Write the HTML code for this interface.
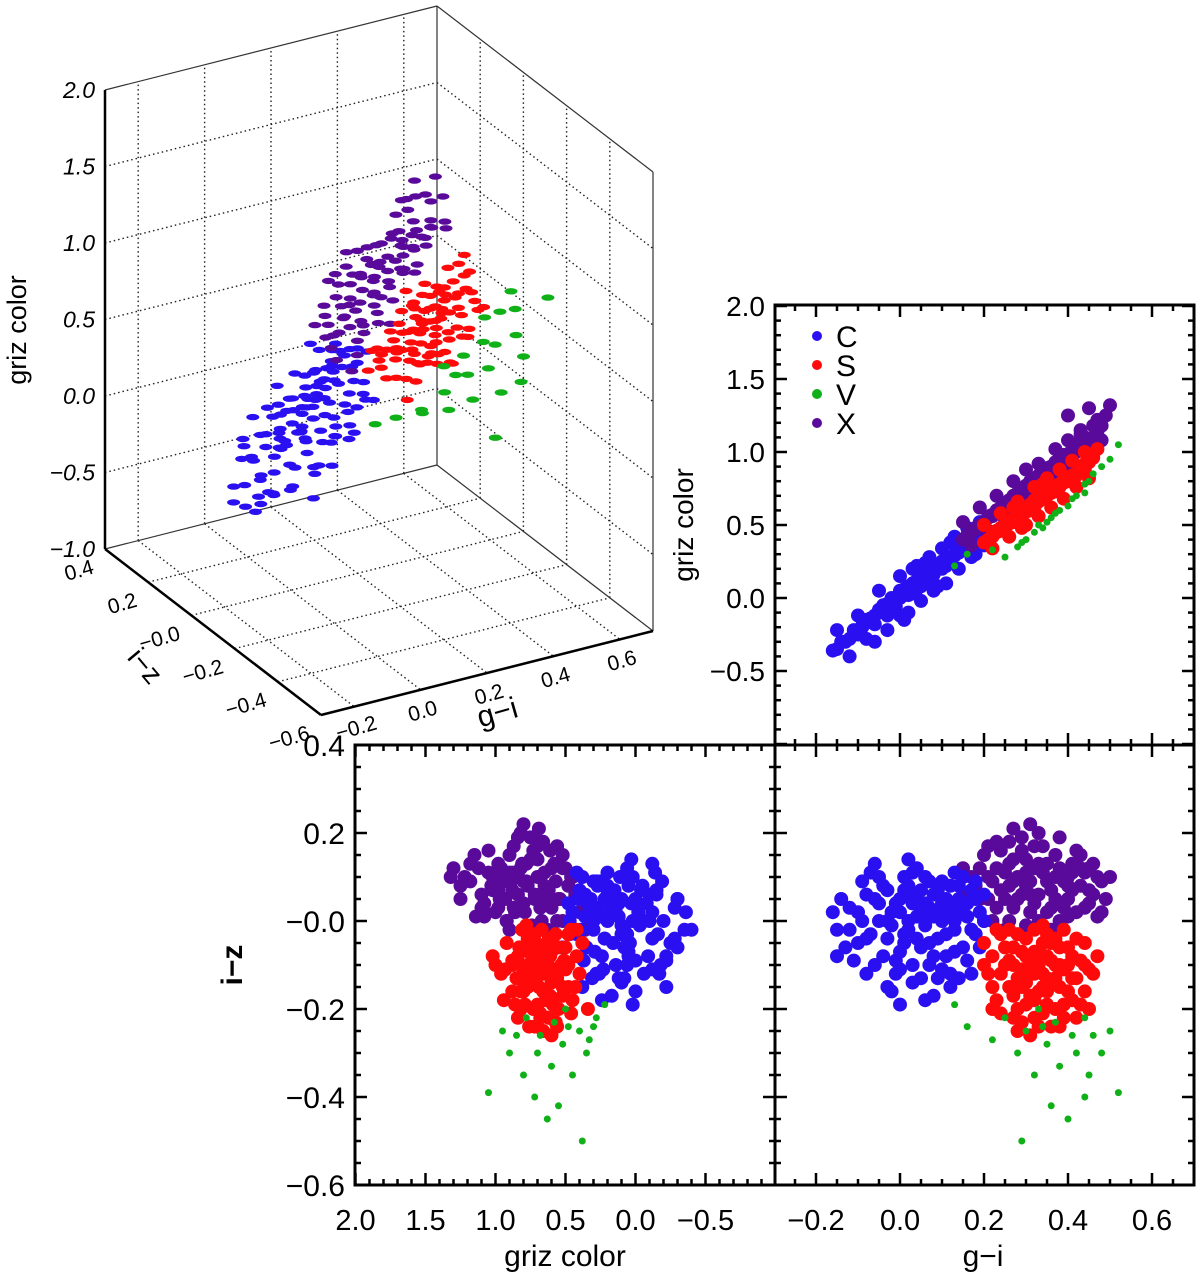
<!DOCTYPE html>
<html><head><meta charset="utf-8">
<style>
html,body{margin:0;padding:0;background:#fff;}
svg{display:block;font-family:"Liberation Sans",sans-serif;}
</style></head>
<body>
<svg id="fig" width="1200" height="1282" viewBox="0 0 1200 1282" xmlns="http://www.w3.org/2000/svg"></svg>
<script>
// ---- data: [g-i, i-z, griz] per asteroid class ----
const classNames = ['C','S','V','X'];
const classColors = ['#2a10f0','#ff0a0a','#10b018','#5a0a9a'];
const dataC = [
[-0.15,-0.02,-0.35],[-0.12,0.03,-0.28],[-0.10,-0.05,-0.25],[-0.08,0.06,-0.15],[-0.06,-0.10,-0.18],[-0.05,0.00,-0.10],[-0.04,0.08,-0.05],[-0.03,-0.04,-0.12],[-0.02,0.02,-0.02],[-0.01,-0.12,-0.06],
[0.00,0.05,0.00],[0.00,-0.07,0.05],[0.01,0.10,0.02],[0.02,-0.02,0.08],[0.03,0.04,0.03],[0.03,-0.14,0.10],[0.04,0.01,0.12],[0.05,-0.06,0.08],[0.05,0.07,0.15],[0.06,-0.01,0.10],
[0.07,0.03,0.18],[0.07,-0.10,0.14],[0.08,0.06,0.16],[0.09,-0.04,0.22],[0.10,0.00,0.20],[0.10,0.09,0.25],[0.11,-0.08,0.24],[0.12,0.03,0.28],[0.13,-0.02,0.30],[0.14,0.05,0.32],
[0.15,-0.06,0.35],[0.16,0.01,0.36],[0.17,0.07,0.40],[0.18,-0.03,0.42],[0.19,0.02,0.45],[-0.02,-0.16,0.00],[0.04,0.12,0.06],[0.12,-0.12,0.26],[-0.07,0.11,-0.14],[0.08,-0.17,0.17],
[0.15,0.10,0.38],[-0.11,-0.09,-0.22],[0.02,0.00,0.02],[0.06,0.04,0.12],[0.11,0.05,0.22],[-0.03,0.00,-0.06],[0.09,0.02,0.21],[0.13,0.00,0.30],[0.01,-0.03,0.06],[-0.05,0.04,-0.08],
[-0.14,0.05,-0.30],[-0.13,-0.06,-0.30],[-0.09,0.00,-0.20],[-0.09,0.09,-0.19],[-0.07,-0.03,-0.16],[-0.06,0.13,-0.12],[-0.04,-0.08,-0.09],[-0.03,0.07,-0.04],[-0.01,0.04,-0.01],[-0.01,-0.09,0.00],
[0.01,-0.05,0.04],[0.02,0.08,0.05],[0.03,-0.10,0.06],[0.04,0.05,0.10],[0.05,-0.13,0.12],[0.06,0.10,0.11],[0.07,-0.05,0.16],[0.08,0.01,0.19],[0.09,0.07,0.20],[0.10,-0.11,0.23],
[0.11,0.01,0.25],[0.12,0.08,0.27],[0.13,-0.07,0.29],[0.14,0.02,0.33],[0.15,0.04,0.34],[0.16,-0.09,0.37],[0.17,-0.02,0.39],[0.18,0.05,0.41],[0.02,0.14,0.03],[-0.08,-0.12,-0.17],
[0.00,-0.19,0.02],[0.20,0.00,0.47],[-0.16,0.02,-0.36],[0.14,-0.13,0.31],[0.06,0.02,0.14],[-0.02,-0.01,-0.03],
[-0.10,0.02,-0.12],[-0.08,-0.04,-0.28],[-0.05,0.10,0.05],[-0.03,-0.15,-0.22],[0.00,0.02,0.15],[0.00,-0.11,-0.12],[0.02,0.06,-0.10],[0.04,-0.04,0.22],[0.05,0.03,-0.02],[0.07,0.09,0.28],
[0.08,-0.08,0.05],[0.10,0.04,0.34],[0.11,-0.03,0.10],[0.12,-0.15,0.38],[0.14,0.08,0.20],[0.16,0.04,0.48],[0.17,-0.12,0.28],[0.19,-0.06,0.52],[0.20,0.06,0.36],[-0.12,-0.02,-0.40],
[-0.06,0.05,-0.30],[0.03,0.11,0.20],[0.09,-0.13,0.08],[0.13,0.11,0.42],[-0.15,-0.08,-0.22],[0.06,-0.18,0.24],[0.01,0.07,-0.15],[0.18,0.09,0.30]
];
const dataS = [
[0.20,-0.05,0.38],[0.21,-0.12,0.40],[0.22,-0.08,0.42],[0.23,-0.18,0.45],[0.24,-0.03,0.48],[0.25,-0.10,0.48],[0.26,-0.15,0.52],[0.27,-0.06,0.55],[0.28,-0.20,0.55],[0.29,-0.11,0.58],
[0.30,-0.04,0.62],[0.30,-0.14,0.60],[0.31,-0.09,0.63],[0.32,-0.22,0.62],[0.33,-0.07,0.68],[0.33,-0.16,0.66],[0.34,-0.12,0.70],[0.35,-0.03,0.72],[0.35,-0.19,0.70],[0.36,-0.09,0.74],
[0.37,-0.13,0.75],[0.38,-0.06,0.78],[0.38,-0.24,0.76],[0.39,-0.11,0.80],[0.40,-0.16,0.80],[0.41,-0.08,0.84],[0.42,-0.13,0.85],[0.43,-0.19,0.86],[0.44,-0.05,0.92],[0.45,-0.11,0.93],
[0.27,-0.10,0.53],[0.31,-0.17,0.61],[0.36,-0.14,0.73],[0.40,-0.10,0.82],[0.34,-0.05,0.71],[0.29,-0.07,0.60],[0.37,-0.20,0.73],[0.25,-0.06,0.50],[0.42,-0.22,0.84],[0.32,-0.12,0.66],
[0.22,-0.15,0.43],[0.23,-0.02,0.46],[0.24,-0.21,0.46],[0.26,-0.09,0.51],[0.27,-0.17,0.52],[0.28,-0.03,0.57],[0.28,-0.13,0.56],[0.29,-0.23,0.57],[0.30,-0.08,0.61],[0.31,-0.12,0.64],
[0.32,-0.02,0.67],[0.32,-0.18,0.64],[0.33,-0.10,0.67],[0.34,-0.21,0.68],[0.35,-0.08,0.72],[0.35,-0.13,0.71],[0.36,-0.24,0.72],[0.37,-0.04,0.77],[0.38,-0.15,0.77],[0.39,-0.19,0.79],
[0.40,-0.06,0.83],[0.41,-0.13,0.83],[0.43,-0.09,0.88],[0.44,-0.16,0.88],[0.46,-0.12,0.96],[0.39,-0.02,0.81],[0.31,-0.26,0.60],[0.34,-0.15,0.69],[0.37,-0.10,0.76],[0.30,-0.19,0.59],
[0.20,-0.10,0.50],[0.22,-0.20,0.34],[0.24,-0.12,0.58],[0.26,-0.02,0.42],[0.28,-0.25,0.66],[0.30,-0.11,0.50],[0.32,-0.07,0.76],[0.33,-0.24,0.56],[0.35,-0.16,0.82],[0.36,-0.05,0.62],
[0.38,-0.10,0.88],[0.39,-0.22,0.68],[0.41,-0.18,0.94],[0.42,-0.04,0.76],[0.44,-0.10,1.00],[0.45,-0.20,0.82],[0.47,-0.08,1.02],[0.29,-0.15,0.48],[0.34,-0.01,0.78],[0.27,-0.22,0.62]
];
const dataV = [
[0.25,-0.22,0.28],[0.28,-0.30,0.35],[0.30,-0.25,0.40],[0.32,-0.35,0.45],[0.33,-0.20,0.50],[0.35,-0.28,0.52],[0.36,-0.42,0.55],[0.37,-0.23,0.58],[0.38,-0.33,0.60],[0.40,-0.45,0.63],
[0.41,-0.26,0.68],[0.42,-0.30,0.70],[0.44,-0.22,0.78],[0.45,-0.35,0.80],[0.46,-0.26,0.85],[0.48,-0.30,0.90],[0.50,-0.25,0.95],[0.52,-0.39,1.05],[0.29,-0.50,0.38],[0.34,-0.24,0.48],
[0.13,-0.19,0.22],[0.16,-0.24,0.30],[0.22,-0.27,0.33],[0.44,-0.40,0.72]
];
const dataX = [
[0.15,0.02,0.40],[0.17,0.10,0.45],[0.18,-0.03,0.47],[0.20,0.15,0.52],[0.21,0.05,0.55],[0.22,0.00,0.56],[0.23,0.12,0.60],[0.24,0.07,0.62],[0.25,-0.02,0.63],[0.26,0.18,0.66],
[0.27,0.03,0.68],[0.28,0.10,0.70],[0.29,0.06,0.72],[0.30,0.14,0.75],[0.30,-0.01,0.74],[0.31,0.09,0.78],[0.32,0.04,0.80],[0.33,0.20,0.82],[0.34,0.11,0.84],[0.35,0.02,0.86],
[0.36,0.07,0.88],[0.37,0.15,0.90],[0.38,0.00,0.92],[0.39,0.09,0.94],[0.40,0.05,0.97],[0.41,0.13,0.98],[0.42,0.02,1.00],[0.43,0.08,1.03],[0.44,0.11,1.05],[0.45,0.04,1.08],
[0.46,0.06,1.10],[0.47,0.01,1.14],[0.48,0.09,1.18],[0.26,0.08,0.65],[0.33,0.13,0.81],[0.29,0.16,0.73],[0.36,0.03,0.87],[0.22,0.09,0.57],[0.40,0.10,0.96],[0.24,0.16,0.61],
[0.45,0.12,1.30],[0.40,0.08,1.25],
[0.16,0.06,0.43],[0.19,0.12,0.50],[0.20,0.00,0.52],[0.21,0.17,0.56],[0.23,0.03,0.60],[0.25,0.11,0.65],[0.26,0.00,0.67],[0.27,0.14,0.70],[0.28,0.05,0.72],[0.29,0.19,0.75],
[0.30,0.08,0.77],[0.31,0.02,0.79],[0.32,0.12,0.82],[0.33,0.06,0.84],[0.34,0.17,0.87],[0.35,0.09,0.89],[0.36,-0.02,0.90],[0.37,0.05,0.93],[0.38,0.12,0.96],[0.39,0.03,0.98],
[0.41,0.07,1.02],[0.42,0.16,1.05],[0.44,0.03,1.10],[0.46,0.13,1.18],[0.49,0.05,1.25],[0.50,0.10,1.32],[0.27,0.21,0.69],[0.31,0.22,0.80],[0.18,0.08,0.48],[0.43,0.12,1.12],
[0.15,0.12,0.52],[0.17,-0.02,0.36],[0.19,0.05,0.62],[0.21,0.10,0.46],[0.23,0.18,0.70],[0.25,0.05,0.54],[0.27,0.09,0.80],[0.28,-0.03,0.62],[0.30,0.11,0.88],[0.32,0.17,0.70],
[0.33,0.00,0.92],[0.35,0.13,0.78],[0.37,0.10,1.02],[0.38,0.19,0.84],[0.40,0.01,1.08],[0.41,0.11,0.90],[0.43,0.15,1.15],[0.45,0.07,0.98],[0.47,0.10,1.22],[0.48,0.02,1.08],
[0.26,0.13,0.58],[0.31,0.06,0.68]
];
const giTicks = ['-0.2','0.0','0.2','0.4','0.6'];
const izTicks3d = ['0.4','0.2','-0.0','-0.2','-0.4','-0.6'];
const grizTicks = ['-1.0','-0.5','0.0','0.5','1.0','1.5','2.0'];
const izTicks = ['0.4','0.2','-0.0','-0.2','-0.4','-0.6'];
const grizTicksBottom = ['2.0','1.5','1.0','0.5','0.0','-0.5'];

const NS='http://www.w3.org/2000/svg';
const svg=document.getElementById('fig');
function mk(tag,attrs,parent){const e=document.createElementNS(NS,tag);for(const k in attrs)e.setAttribute(k,attrs[k]);(parent||svg).appendChild(e);return e;}
function lab(s){return s.replace('-','\u2212');}
const byClass={C:dataC,S:dataS,V:dataV,X:dataX};

// ---------- 3D panel ----------
const g3=mk('g',{});


function P(gi,iz,gz){return [321+(gi+0.3)*332-(iz+0.6)*216, 715-(gi+0.3)*84-(iz+0.6)*166-(gz+1)*153];}
function line3(a,b,attrs){const p=P(...a),q=P(...b);return mk('line',Object.assign({x1:p[0],y1:p[1],x2:q[0],y2:q[1]},attrs),g3);}
const dot={stroke:'#222','stroke-width':1.4,'stroke-dasharray':'1.5 3'};
const giG=[-0.2,0,0.2,0.4,0.6], izG=[0.2,0,-0.2,-0.4], gzG=[-0.5,0,0.5,1,1.5];
giG.forEach(g=>{line3([g,0.4,-1],[g,-0.6,-1],dot);line3([g,0.4,-1],[g,0.4,2],dot);});
izG.forEach(z=>{line3([-0.3,z,-1],[0.7,z,-1],dot);line3([0.7,z,-1],[0.7,z,2],dot);});
gzG.forEach(v=>{line3([-0.3,0.4,v],[0.7,0.4,v],dot);line3([0.7,0.4,v],[0.7,-0.6,v],dot);});
const thin={stroke:'#333','stroke-width':1.2};
line3([0.7,0.4,-1],[0.7,0.4,2],thin);line3([0.7,-0.6,-1],[0.7,-0.6,2],thin);
line3([-0.3,0.4,2],[0.7,0.4,2],thin);line3([0.7,0.4,2],[0.7,-0.6,2],thin);
line3([-0.3,0.4,-1],[0.7,0.4,-1],thin);line3([0.7,0.4,-1],[0.7,-0.6,-1],thin);
const thick={stroke:'#000','stroke-width':2.5};
line3([-0.3,0.4,-1],[-0.3,0.4,2],thick);line3([-0.3,0.4,-1],[-0.3,-0.6,-1],thick);line3([-0.3,-0.6,-1],[0.7,-0.6,-1],thick);
['C','X','S','V'].forEach(cn=>{const col=classColors[classNames.indexOf(cn)];
 byClass[cn].forEach(d=>{const p=P(d[0],d[1],d[2]);const e=mk('ellipse',{cx:p[0].toFixed(1),cy:p[1].toFixed(1),rx:6.5,ry:3.2,fill:col},g3);
 
 });});
grizTicks.forEach(t=>{const p=P(-0.3,0.4,parseFloat(t));const e=mk('text',{x:p[0]-10,y:p[1]+8,'font-size':23,'text-anchor':'end','font-style':'italic'},g3);e.textContent=lab(t);
 
 });
izTicks3d.forEach(t=>{const p=P(-0.3,parseFloat(t),-1);const e=mk('text',{x:p[0]-10,y:p[1]+24,'font-size':21,'text-anchor':'end',transform:`rotate(-16 ${p[0]-10} ${p[1]+24})`},g3);e.textContent=lab(t);
 
 });
giTicks.forEach(t=>{const p=P(parseFloat(t),-0.6,-1);const e=mk('text',{x:p[0]+4,y:p[1]+28,'font-size':21,'text-anchor':'middle',transform:`rotate(-16 ${p[0]+4} ${p[1]+28})`},g3);e.textContent=lab(t);
 
 });
let e;
e=mk('text',{x:26,y:330,'font-size':27,'text-anchor':'middle',transform:'rotate(-90 26 330)'});e.textContent='griz color';

e=mk('text',{x:138,y:672,'font-size':28,'text-anchor':'middle',transform:'rotate(50 138 672)'});e.textContent='i\u2212z';

e=mk('text',{x:500,y:722,'font-size':30,'text-anchor':'middle',transform:'rotate(-16 500 722)'});e.textContent='g\u2212i';


// ---------- 2D panels ----------
function panel(name,x0,y0,x1,y1,xs,ys,xi,yi,order){
 const g=mk('g',{});
 
 
 const clip=mk('clipPath',{id:'c'+name},g);mk('rect',{x:x0,y:y0,width:x1-x0,height:y1-y0},clip);
 const pg=mk('g',{'clip-path':`url(#c${name})`},g);
 order.forEach(cn=>{const col=classColors[classNames.indexOf(cn)];
  byClass[cn].forEach(d=>{const c=mk('circle',{cx:xs(d[xi]).toFixed(1),cy:ys(d[yi]).toFixed(1),r:cn==='V'?3.5:7,fill:col},pg);
  
  });});
 mk('rect',{x:x0,y:y0,width:x1-x0,height:y1-y0,fill:'none',stroke:'#000','stroke-width':3},g);
 return g;
}
function ticksX(g,xs,lo,hi,maj,minr,y0,y1){for(let v=lo;v<=hi+1e-9;v+=minr){const x=xs(v);const isMaj=Math.abs(v/maj-Math.round(v/maj))<1e-6;const L=isMaj?12:6;
 mk('line',{x1:x,y1:y1,x2:x,y2:y1-L,stroke:'#000','stroke-width':2.5},g);mk('line',{x1:x,y1:y0,x2:x,y2:y0+L,stroke:'#000','stroke-width':2.5},g);}}
function ticksY(g,ys,lo,hi,maj,minr,x0,x1){for(let v=lo;v<=hi+1e-9;v+=minr){const y=ys(v);const isMaj=Math.abs(v/maj-Math.round(v/maj))<1e-6;const L=isMaj?12:6;
 mk('line',{x1:x0,y1:y,x2:x0+L,y2:y,stroke:'#000','stroke-width':2.5},g);mk('line',{x1:x1,y1:y,x2:x1-L,y2:y,stroke:'#000','stroke-width':2.5},g);}}
const xGi=v=>900+420*v, yGrizTR=v=>598-146*v, yIz=v=>921-440*v, xGriz=v=>635.5-140*v;

const tr=panel('griz-vs-gi-panel',775,305,1194,745,xGi,yGrizTR,0,2,['C','X','S','V']);
ticksX(tr,xGi,-0.25,0.65,0.2,0.05,305,745);ticksY(tr,yGrizTR,-1,2,0.5,0.1,775,1194);
grizTicks.slice(1).forEach(t=>{const t2=mk('text',{x:765,y:yGrizTR(parseFloat(t))+10,'font-size':28,'text-anchor':'end'},tr);t2.textContent=lab(t);
 });
e=mk('text',{x:693,y:525,'font-size':28,'text-anchor':'middle',transform:'rotate(-90 693 525)'});e.textContent='griz color';

classNames.forEach((cn,i)=>{const lg=mk('g',{},tr);
 
 
 mk('circle',{cx:817,cy:336+i*29,r:5,fill:classColors[i]},lg);
 const t=mk('text',{x:836,y:347+i*29,'font-size':30},lg);t.textContent=cn;});

const bl=panel('iz-vs-griz-panel',355,745,775,1185,xGriz,yIz,2,1,['X','C','S','V']);
ticksX(bl,xGriz,-0.9,2.0,0.5,0.1,745,1185);ticksY(bl,yIz,-0.6,0.4,0.2,0.05,355,775);
const br=panel('iz-vs-gi-panel',775,745,1194,1185,xGi,yIz,0,1,['X','C','S','V']);
ticksX(br,xGi,-0.25,0.65,0.2,0.05,745,1185);ticksY(br,yIz,-0.6,0.4,0.2,0.05,775,1194);
izTicks.forEach(t=>{const t2=mk('text',{x:345,y:yIz(parseFloat(t))+11,'font-size':30,'text-anchor':'end'},bl);t2.textContent=lab(t);
 });
grizTicksBottom.forEach(t=>{const t2=mk('text',{x:xGriz(parseFloat(t)),y:1230,'font-size':29,'text-anchor':'middle'},bl);t2.textContent=lab(t);
 });
giTicks.forEach(t=>{const t2=mk('text',{x:xGi(parseFloat(t)),y:1230,'font-size':29,'text-anchor':'middle'},br);t2.textContent=lab(t);
 });
e=mk('text',{x:565,y:1266,'font-size':30,'text-anchor':'middle'});e.textContent='griz color';

e=mk('text',{x:983,y:1266,'font-size':30,'text-anchor':'middle'});e.textContent='g\u2212i';

e=mk('text',{x:242,y:965,'font-size':30,'font-weight':'bold','text-anchor':'middle',transform:'rotate(-90 242 965)'});e.textContent='i\u2212z';

</script>
</body></html>
